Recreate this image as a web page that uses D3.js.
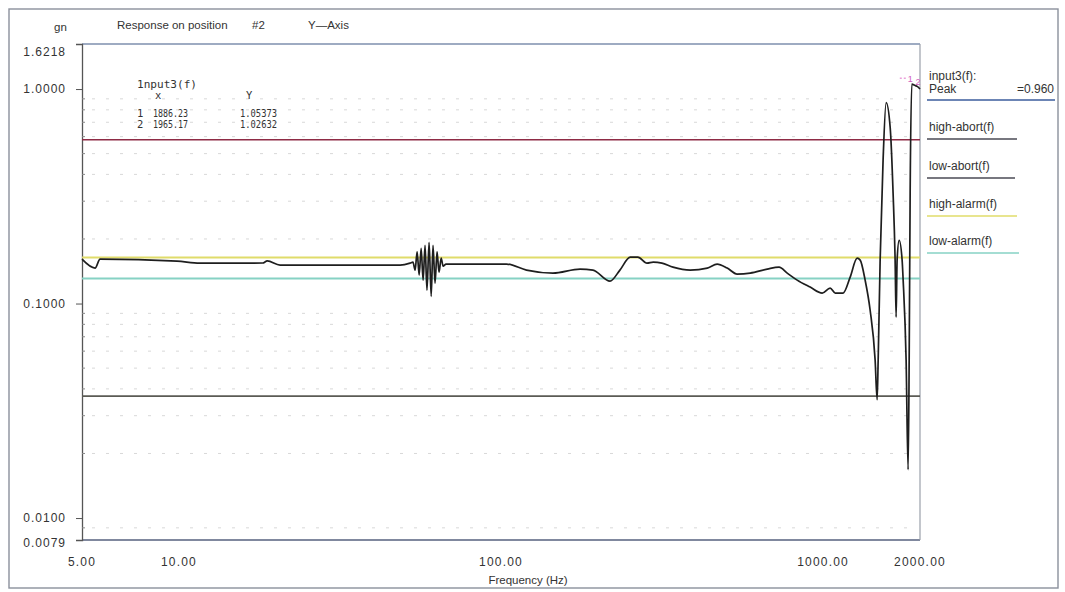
<!DOCTYPE html>
<html>
<head>
<meta charset="utf-8">
<script src="https://cdn.jsdelivr.net/npm/d3@7"></script>
<style>
  body { margin: 0; background: #fff; }
  #chart { width: 1065px; height: 592px; }
  text { font-family: "Liberation Sans", Arial, sans-serif; white-space: pre; }
</style>
</head>
<body>
<div id="chart"></div>
<script>
// Response curve
const freqHz = [5.00, 5.49, 5.69, 9.86, 11.6, 18.2, 18.8, 20.6, 48.6, 52.2,
    53.3, 54.1, 54.9, 55.7, 56.5, 57.3, 58.1, 58.9, 59.8, 60.7,
    61.5, 62.4, 63.3, 64.2, 65.2, 66.1, 67.5, 104, 120, 145,
    176, 193, 218, 234, 252, 266, 284, 297, 316, 342,
    387, 437, 469, 504, 541, 594, 671, 730, 774, 831,
    912, 994, 1052, 1091, 1154, 1214, 1276, 1304, 1351, 1400,
    1451, 1472, 1483, 1504, 1536, 1570, 1616, 1650, 1674, 1686,
    1698, 1723, 1760, 1773, 1811, 1837, 1851, 1864, 1886.23, 1932,
    1965.17, 2000];
const gnValues = [0.161, 0.1463, 0.161, 0.1576, 0.1543, 0.1545, 0.158, 0.1511, 0.1511, 0.1543,
    0.156, 0.143, 0.174, 0.1357, 0.181, 0.1286, 0.187, 0.1155, 0.193, 0.108,
    0.187, 0.1245, 0.174, 0.140, 0.163, 0.1494, 0.1527, 0.1527, 0.1432, 0.1386,
    0.1447, 0.1432, 0.1272, 0.1432, 0.1645, 0.1645, 0.1543, 0.156, 0.1543, 0.1478,
    0.1432, 0.1463, 0.1527, 0.1463, 0.1372, 0.1386, 0.1447, 0.1478, 0.1386, 0.1286,
    0.1193, 0.1119, 0.1181, 0.1119, 0.1119, 0.1328, 0.1627, 0.1594, 0.1286, 0.0933,
    0.0546, 0.0356, 0.0546, 0.1594, 0.465, 0.865, 0.662, 0.3266, 0.1594, 0.0865,
    0.1594, 0.1973, 0.1594, 0.1286, 0.0546, 0.0168, 0.0546, 0.3266, 1.05373, 1.038,
    1.02632, 1.00];

// Axes
const xTicks = [5, 10, 100, 1000, 2000];
const yTicks = [1.6218, 1.0, 0.1, 0.01, 0.0079];
const yMinor = [0.9, 0.8, 0.7, 0.6, 0.5, 0.4, 0.3, 0.2, 0.09, 0.08, 0.07, 0.06, 0.05, 0.04, 0.03, 0.02, 0.009];

// Limit lines
const limitNames = ['high-abort(f)', 'low-abort(f)', 'high-alarm(f)', 'low-alarm(f)'];
const limitValues = [0.58, 0.037, 0.164, 0.131];
const limitColors = ['#8e2b45', '#5b5b55', '#e0dc6a', '#86d2c4'];

// Markers
const markerIds = [1, 2];
const markerFreq = [1886.23, 1965.17];
const markerGn = [1.05373, 1.02632];
const peakValue = 0.960;

const width = 1065, height = 592;
const plot = { left: 82, right: 920, top: 44, bottom: 540 };
const ink = '#333';

const svg = d3.select('#chart').append('svg')
    .attr('width', width)
    .attr('height', height);

const x = d3.scaleLog().domain([5, 2000]).range([plot.left, plot.right]);
const y = d3.scaleLog().domain([0.0079, 1.6218]).range([plot.bottom, plot.top]);

// Outer frame
svg.append('rect')
    .attr('x', 9).attr('y', 9)
    .attr('width', 1049).attr('height', 579)
    .attr('fill', 'none')
    .attr('stroke', '#8b909c')
    .attr('stroke-width', 1.4);

// Faint dotted grid
svg.append('g')
    .selectAll('line')
    .data(yMinor)
    .join('line')
    .attr('x1', plot.left + 10).attr('x2', plot.right - 10)
    .attr('y1', d => y(d)).attr('y2', d => y(d))
    .attr('stroke', '#d8d8d8')
    .attr('stroke-dasharray', '3,11')
    .attr('stroke-width', 1);

// Plot box
svg.append('line')
    .attr('x1', plot.left).attr('x2', plot.right)
    .attr('y1', plot.top).attr('y2', plot.top)
    .attr('stroke', '#7e8fae').attr('stroke-width', 1.5);
svg.append('line')
    .attr('x1', plot.left).attr('x2', plot.right)
    .attr('y1', plot.bottom).attr('y2', plot.bottom)
    .attr('stroke', '#56607e').attr('stroke-width', 1.6);
svg.append('line')
    .attr('x1', plot.right).attr('x2', plot.right)
    .attr('y1', plot.top).attr('y2', plot.bottom)
    .attr('stroke', '#9aa0aa').attr('stroke-width', 1.2);

// Y axis
const yAxis = d3.axisLeft(y)
    .tickValues(yTicks)
    .tickFormat(d => d.toFixed(4))
    .tickSize(6)
    .tickPadding(10);
const yg = svg.append('g')
    .attr('transform', `translate(${plot.left},0)`)
    .call(yAxis);
yg.select('.domain').attr('stroke', '#555').attr('stroke-width', 1.3);
yg.selectAll('.tick line').attr('stroke', '#555');
yg.selectAll('.tick text')
    .attr('font-size', 12)
    .attr('letter-spacing', 1)
    .attr('fill', ink)
    .attr('font-family', '"Liberation Sans", Arial, sans-serif');
// top and bottom labels sit a bit off the edge
yg.selectAll('.tick').filter(d => d === 1.6218 || d === 0.0079).select('line').remove();
yg.selectAll('.tick').filter(d => d === 1.6218).select('text').attr('dy', '0.95em');
yg.selectAll('.tick').filter(d => d === 0.0079).select('text').attr('dy', '0.5em');

// Minor ticks inside the y axis
svg.append('g')
    .selectAll('line')
    .data(yMinor)
    .join('line')
    .attr('x1', plot.left).attr('x2', plot.left + 3)
    .attr('y1', d => y(d)).attr('y2', d => y(d))
    .attr('stroke', '#888');

// X axis labels
svg.append('g')
    .selectAll('text')
    .data(xTicks)
    .join('text')
    .attr('x', d => x(d))
    .attr('y', 566)
    .attr('text-anchor', 'middle')
    .attr('font-size', 12)
    .attr('letter-spacing', 1.2)
    .attr('fill', ink)
    .text(d => d.toFixed(2));

svg.append('text')
    .attr('x', 528).attr('y', 584)
    .attr('text-anchor', 'middle')
    .attr('font-size', 11.5)
    .attr('fill', ink)
    .text('Frequency (Hz)');

// Titles
svg.append('text')
    .attr('x', 54).attr('y', 31)
    .attr('font-size', 11.5).attr('fill', ink)
    .text('gn');
svg.append('text')
    .attr('x', 117).attr('y', 29)
    .attr('font-size', 11.5).attr('fill', ink)
    .text('Response on position');
svg.append('text')
    .attr('x', 252).attr('y', 29)
    .attr('font-size', 11.5).attr('fill', ink)
    .text('#2');
svg.append('text')
    .attr('x', 308).attr('y', 29)
    .attr('font-size', 11.5).attr('fill', ink)
    .text('Y\u2014Axis');

// Limit lines
svg.append('g')
    .selectAll('line')
    .data(limitValues)
    .join('line')
    .attr('x1', plot.left).attr('x2', plot.right)
    .attr('y1', d => y(d)).attr('y2', d => y(d))
    .attr('stroke', (d, i) => limitColors[i])
    .attr('stroke-width', (d, i) => i < 2 ? 1.6 : 2);

// Response curve
const line = d3.line()
    .x((d, i) => x(freqHz[i]))
    .y(d => y(d))
    .curve(d3.curveMonotoneX);
svg.append('path')
    .datum(gnValues)
    .attr('d', line)
    .attr('fill', 'none')
    .attr('stroke', '#1e1e1e')
    .attr('stroke-width', 1.7)
    .attr('stroke-linejoin', 'round');

// Marker labels near the peak
svg.append('line')
    .attr('x1', x(markerFreq[0]) - 12).attr('x2', x(markerFreq[0]) - 4)
    .attr('y1', y(markerGn[0]) - 6).attr('y2', y(markerGn[0]) - 6)
    .attr('stroke', '#e070c8').attr('stroke-dasharray', '2,2');
svg.append('g')
    .selectAll('text')
    .data(markerIds)
    .join('text')
    .attr('x', (d, i) => x(markerFreq[i]) - 4 + i * 2)
    .attr('y', (d, i) => y(markerGn[i]) - 2)
    .attr('font-size', 9)
    .attr('fill', '#d060c0')
    .text(d => d);

// Marker table (condensed mono text)
const mono = '"DejaVu Sans Mono", monospace';
const table = svg.append('g').attr('fill', ink);
function monoText(g, tx, ty, s, len) {
    const t = g.append('text')
        .attr('x', tx).attr('y', ty)
        .attr('font-size', 10.5)
        .style('font-family', mono)
        .text(s);
    if (len) t.attr('textLength', len).attr('lengthAdjust', 'spacingAndGlyphs');
    return t;
}
monoText(table, 137, 88, '1nput3(f)', 60);
monoText(table, 155, 99, 'x');
monoText(table, 246, 99, 'Y');
markerIds.forEach((id, i) => {
    const ry = 117 + i * 11;
    monoText(table, 137, ry, String(id));
    monoText(table, 153, ry, markerFreq[i].toFixed(2), 35);
    monoText(table, 240, ry, markerGn[i].toFixed(5), 37);
});

// Legend on the right
const legend = svg.append('g').attr('font-size', 12).attr('fill', ink);
legend.append('text').attr('x', 929).attr('y', 80).text('input3(f):');
legend.append('text').attr('x', 929).attr('y', 93).text('Peak');
legend.append('text').attr('x', 1017).attr('y', 93).text('=' + peakValue.toFixed(3));
legend.append('line')
    .attr('x1', 927).attr('x2', 1055)
    .attr('y1', 100).attr('y2', 100)
    .attr('stroke', '#3b5c9c').attr('stroke-width', 1.5);

const legendRowY = [131, 170, 208, 245];
const legendRowW = [90, 88, 90, 92];
limitNames.forEach((name, i) => {
    legend.append('text')
        .attr('x', 929).attr('y', legendRowY[i])
        .text(name);
    legend.append('line')
        .attr('x1', 927).attr('x2', 927 + legendRowW[i])
        .attr('y1', legendRowY[i] + 8).attr('y2', legendRowY[i] + 8)
        .attr('stroke', i < 2 ? '#4a4a55' : limitColors[i])
        .attr('stroke-width', 1.4);
});
</script>
</body>
</html>
